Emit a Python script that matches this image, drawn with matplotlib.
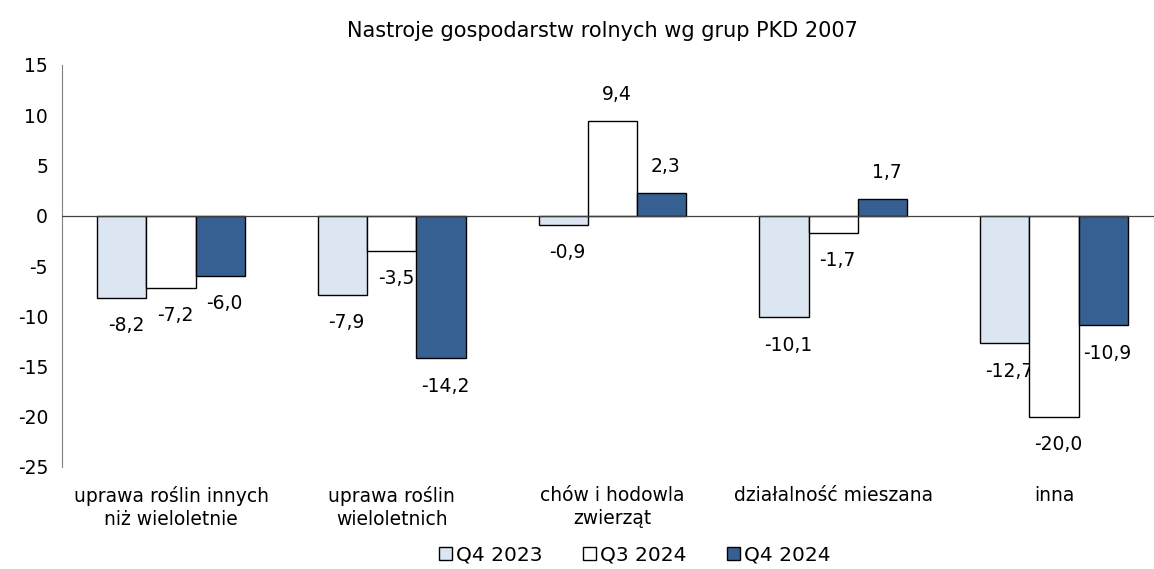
import numpy as np
import matplotlib.pyplot as plt
from matplotlib.patches import Patch

plt.rcParams['font.family'] = ['DejaVu Sans']
plt.rcParams['axes.unicode_minus'] = False

title = "Nastroje gospodarstw rolnych wg grup PKD 2007"
categories = ["uprawa roślin innych\nniż wieloletnie", "uprawa roślin\nwieloletnich",
              "chów i hodowla\nzwierząt", "działalność mieszana", "inna"]
series_names = ["Q4 2023", "Q3 2024", "Q4 2024"]
q4_2023 = [-8.2, -7.9, -0.9, -10.1, -12.7]
q3_2024 = [-7.2, -3.5, 9.4, -1.7, -20.0]
q4_2024 = [-6.0, -14.2, 2.3, 1.7, -10.9]
colors = ["#dce6f2", "#ffffff", "#376092"]


def fmt(v):
    return f"{v:.1f}".replace(".", ",")


def main():
    fig = plt.figure(figsize=(11.54, 5.69), dpi=100)
    ax = fig.add_axes([62 / 1154, 1 - 467 / 569, 1 - 62 / 1154, (467 - 65) / 569])
    x = np.arange(len(categories))
    width = 0.223
    all_series = [q4_2023, q3_2024, q4_2024]

    for i, (vals, col) in enumerate(zip(all_series, colors)):
        xs = x + (i - 1) * width
        ax.bar(xs, vals, width, color=col, edgecolor="black", linewidth=1.0,
               zorder=3)
        for xi, v in zip(xs, vals):
            off = 19 if v >= 0 else -20
            ax.annotate(fmt(v), (xi, v), xytext=(3, off), textcoords="offset points",
                        ha="center", va="center", fontsize=13.5)

    ax.axhline(0, color="#404040", linewidth=0.9, zorder=4)
    ax.set_ylim(-25, 15)
    ax.set_yticks(np.arange(-25, 16, 5))
    ax.set_xlim(-0.494, 4.453)
    ax.set_xticks(x)
    ax.set_xticklabels(categories, fontsize=13, linespacing=1.25)
    ax.tick_params(axis="both", length=0, labelsize=13.5)
    ax.tick_params(axis="x", pad=14)
    ax.tick_params(axis="y", pad=10)
    for s in ["top", "right", "bottom"]:
        ax.spines[s].set_visible(False)
    ax.spines["left"].set_color("#808080")

    fig.text(602 / 1154, 1 - 31 / 569, title, ha="center", va="center", fontsize=15)

    handles = [Patch(facecolor=c, edgecolor="black", linewidth=1.0) for c in colors]
    fig.legend(handles, series_names, loc="center", bbox_to_anchor=(635 / 1154, 1 - 555 / 569),
               ncol=3, frameon=False, fontsize=14.5, handlelength=0.65, handleheight=0.65,
               handletextpad=0.2, columnspacing=2.0)

    fig.savefig("out.png", dpi=100)


if __name__ == "__main__":
    main()
